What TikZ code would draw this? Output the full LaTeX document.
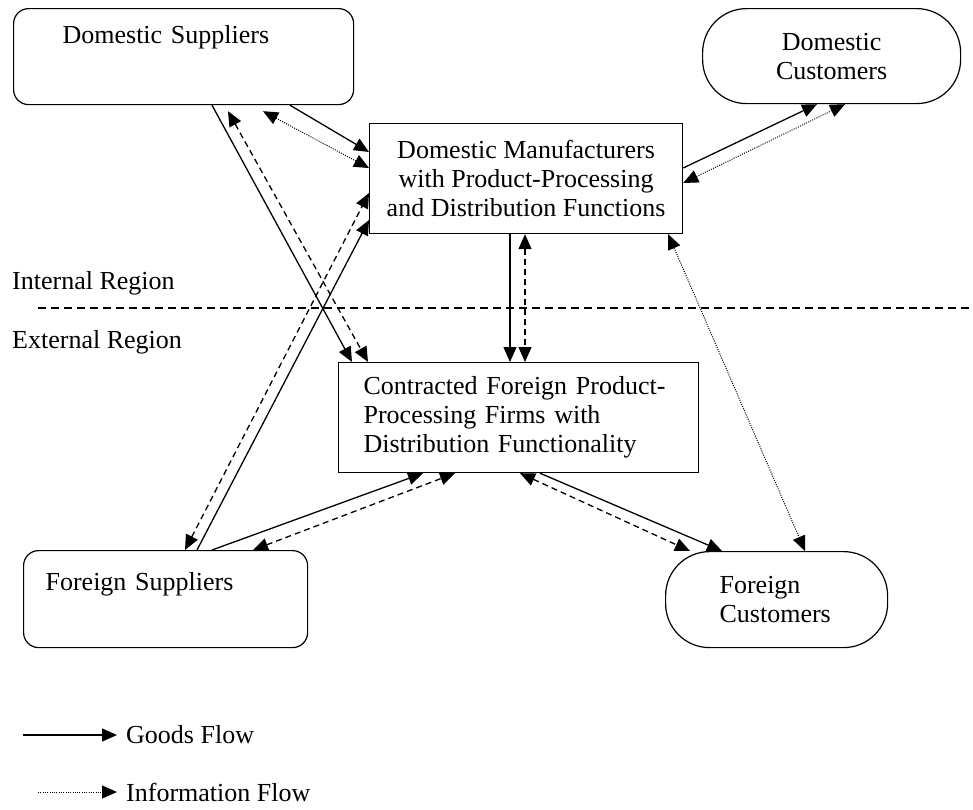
\documentclass[tikz,border=0pt]{standalone}
\usepackage{fontspec}
\setmainfont{Liberation Serif}
\usetikzlibrary{arrows.meta}

\begin{document}
\begin{tikzpicture}[x=1pt,y=-1pt,
    font=\fontsize{26pt}{29pt}\selectfont,
    >={Triangle[length=15pt,width=13pt]},
    box/.style={draw,line width=1.2pt,inner sep=0pt,anchor=north west},
    goods/.style={line width=1.3pt},
    info/.style={line width=1pt,dash pattern=on 1pt off 1.3pt},
    ctrl/.style={line width=1.3pt,dash pattern=on 6pt off 4pt}]
    \useasboundingbox (0,0) rectangle (973,809);

    \node[box,rounded corners=15pt,text width=242pt,inner xsep=49pt,align=left,
        text height=35pt,text depth=61pt] (dsup) at (13,8) {Domestic Suppliers};
    \node[box,rounded corners=44pt,minimum width=258pt,minimum height=95pt,
        align=center] (dcus) at (702,8) {Domestic\\Customers};
    \node[box,minimum width=313pt,minimum height=110pt,align=center] (dman) at (369,123)
        {Domestic Manufacturers\\with Product-Processing\\and Distribution Functions};
    \node[box,minimum height=110pt,text width=310pt,inner xsep=25pt,align=left] (cfp) at (338,362)
        {Contracted Foreign Product-\\Processing Firms with\\Distribution Functionality};
    \node[box,rounded corners=15pt,text width=240pt,inner xsep=22pt,align=left,
        text height=40pt,text depth=57pt] (fsup) at (23,550) {Foreign Suppliers};
    \node[box,rounded corners=44pt,minimum height=96pt,text width=114pt,inner xsep=54pt,
        align=left] (fcus) at (665,551) {Foreign\\Customers};

    \node[anchor=west,inner sep=0pt] (inreg) at (12,283) {Internal Region};
    \node[anchor=west,inner sep=0pt] (exreg) at (12,342) {External Region};
    \draw[line width=1.2pt,dash pattern=on 8pt off 5pt] (38,308) -- (973,308);

    \draw[goods,->] ([xshift=199pt]dsup.south west) -- ([xshift=14pt]cfp.north west);
    \draw[ctrl,<->] ([xshift=215pt,yshift=-6pt]dsup.south west) -- ([xshift=30pt]cfp.north west);
    \draw[goods,->] ([xshift=277pt]dsup.south west) -- ([yshift=-29pt]dman.north west);
    \draw[info,<->] ([xshift=250pt,yshift=-6pt]dsup.south west) -- ([yshift=-45pt]dman.north west);

    \draw[goods,->] ([xshift=174pt]fsup.north west) -- ([yshift=-97pt]dman.north west);
    \draw[ctrl,<->] ([xshift=162pt]fsup.north west) -- ([yshift=-70pt]dman.north west);
    \draw[goods,->] ([xshift=189pt]fsup.north west) -- ([xshift=85pt]cfp.south west);
    \draw[ctrl,<->] ([xshift=230pt]fsup.north west) -- ([xshift=117pt]cfp.south west);

    \draw[goods,->] ([xshift=141pt]dman.south west) -- ([xshift=172pt]cfp.north west);
    \draw[ctrl,<->] ([xshift=156pt]dman.south west) -- ([xshift=187pt]cfp.north west);

    \draw[goods,->] ([yshift=-45pt]dman.north east) -- ([xshift=115pt]dcus.south west);
    \draw[info,<->] ([yshift=-60pt]dman.north east) -- ([xshift=143pt]dcus.south west);
    \draw[info,<->] ([xshift=-15pt]dman.south east) -- ([xshift=140pt]fcus.north west);

    \draw[goods,->] ([xshift=202pt]cfp.south west) -- ([xshift=57pt]fcus.north west);
    \draw[ctrl,<->] ([xshift=182pt]cfp.south west) -- ([xshift=25pt]fcus.north west);

    \node[anchor=west,inner xsep=9pt,inner ysep=0pt] (goodslbl) at (117,735) {Goods Flow};
    \node[anchor=west,inner xsep=9pt,inner ysep=0pt] (infolbl) at (117,792) {Information Flow};
    \coordinate (goodsstart) at (23,735);
    \coordinate (infostart) at (38,792);
    \draw[goods,->] (goodsstart) -- (goodslbl.west);
    \draw[info,->] (infostart) -- (infolbl.west);
\end{tikzpicture}
\end{document}
